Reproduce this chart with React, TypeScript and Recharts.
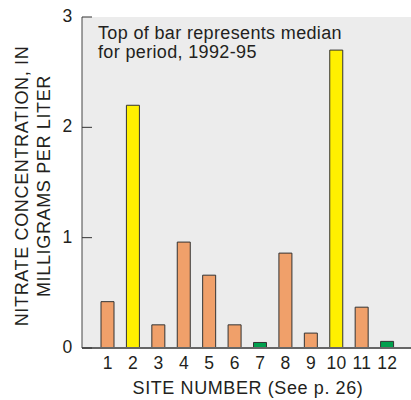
import React from "react";
import { BarChart, Bar, XAxis, YAxis, Cell, CartesianGrid } from "recharts";

const sites = ["1", "2", "3", "4", "5", "6", "7", "8", "9", "10", "11", "12"];
const medians = [0.42, 2.2, 0.21, 0.96, 0.66, 0.21, 0.05, 0.86, 0.135, 2.7, 0.37, 0.06];
const groups = ["orange", "yellow", "orange", "orange", "orange", "orange", "green", "orange", "orange", "yellow", "orange", "green"];
const yTicks = [0, 1, 2, 3];
const noteLines = ["Top of bar represents median", "for period, 1992-95"];
const yTitleLines = ["NITRATE CONCENTRATION, IN", "MILLIGRAMS PER LITER"];
const xTitle = "SITE NUMBER (See p. 26)";

const palette: Record<string, string> = {
  orange: "#F0A06A",
  yellow: "#FFF000",
  green: "#00A04E",
};

const data = sites.map((s, i) => ({ site: s, value: medians[i], group: groups[i] }));

const FONT = "'Liberation Sans', Arial, Helvetica, sans-serif";
const TXT = "#231f20";

const LeftTick = (props: any) => {
  const { x, y, payload } = props;
  return (
    <g>
      <line x1={x} y1={y} x2={x + 10} y2={y} stroke="#333" strokeWidth={1} />
      <text x={x - 9.5} y={y} dy={5} textAnchor="end" fontSize={17.5} fill={TXT} fontFamily={FONT} letterSpacing={0.3}>
        {payload.value}
      </text>
    </g>
  );
};

const RightTick = (props: any) => {
  const { x, y } = props;
  return <line x1={x - 8} y1={y} x2={x} y2={y} stroke="#333" strokeWidth={1} />;
};

const XTick = (props: any) => {
  const { x, y, payload } = props;
  return (
    <text x={x} y={y} dy={13} textAnchor="middle" fontSize={17.5} fill={TXT} fontFamily={FONT} letterSpacing={0.3}>
      {payload.value}
    </text>
  );
};

export default function App() {
  return (
    <div style={{ position: "absolute", left: 0, top: 0, width: 411, height: 400, background: "#fff" }}>
      <BarChart
        width={411}
        height={400}
        data={data}
        margin={{ top: 17, right: 0, bottom: 0, left: 0 }}
        barSize={13}
      >
        <CartesianGrid fill="#ececec" horizontal={false} vertical={false} />
        <XAxis
          dataKey="site"
          xAxisId="b"
          height={52}
          padding={{ left: 13, right: 11 }}
          tickLine={false}
          axisLine={{ stroke: "#666", strokeWidth: 2 }}
          tick={<XTick />}
          interval={0}
          label={{
            content: () => (
              <text x={248} y={394} textAnchor="middle" fontSize={18} fill={TXT} fontFamily={FONT} letterSpacing={0.6}>
                {xTitle}
              </text>
            ),
          }}
        />
        <XAxis
          dataKey="site"
          xAxisId="t"
          orientation="top"
          height={0}
          tick={false}
          tickLine={false}
          axisLine={{ stroke: "#444", strokeWidth: 1 }}
        />
        <YAxis
          yAxisId="l"
          width={82}
          domain={[0, 3]}
          ticks={yTicks}
          tickSize={0}
          tickMargin={0}
          tickLine={false}
          axisLine={{ stroke: "#444", strokeWidth: 1 }}
          tick={<LeftTick />}
          label={{
            content: () => (
              <g fontFamily={FONT} fontSize={18} fill={TXT} letterSpacing={0.65}>
                <text transform="translate(28,186) rotate(-90)" textAnchor="middle">
                  {yTitleLines[0]}
                </text>
                <text transform="translate(49.5,186) rotate(-90)" textAnchor="middle">
                  {yTitleLines[1]}
                </text>
              </g>
            ),
          }}
        />
        <YAxis
          yAxisId="r"
          orientation="right"
          width={0}
          domain={[0, 3]}
          ticks={yTicks}
          tickSize={0}
          tickMargin={0}
          tickLine={false}
          axisLine={false}
          tick={<RightTick />}
        />
        <Bar dataKey="value" xAxisId="b" yAxisId="l" stroke="#333" strokeWidth={1} isAnimationActive={false}>
          {data.map((d, i) => (
            <Cell key={i} fill={palette[d.group]} />
          ))}
        </Bar>
        <text x={98} y={39} fontSize={18} fill={TXT} fontFamily={FONT} letterSpacing={0.35}>
          <tspan x={98} y={39}>{noteLines[0]}</tspan>
          <tspan x={98} y={58}>{noteLines[1]}</tspan>
        </text>
      </BarChart>
    </div>
  );
}
